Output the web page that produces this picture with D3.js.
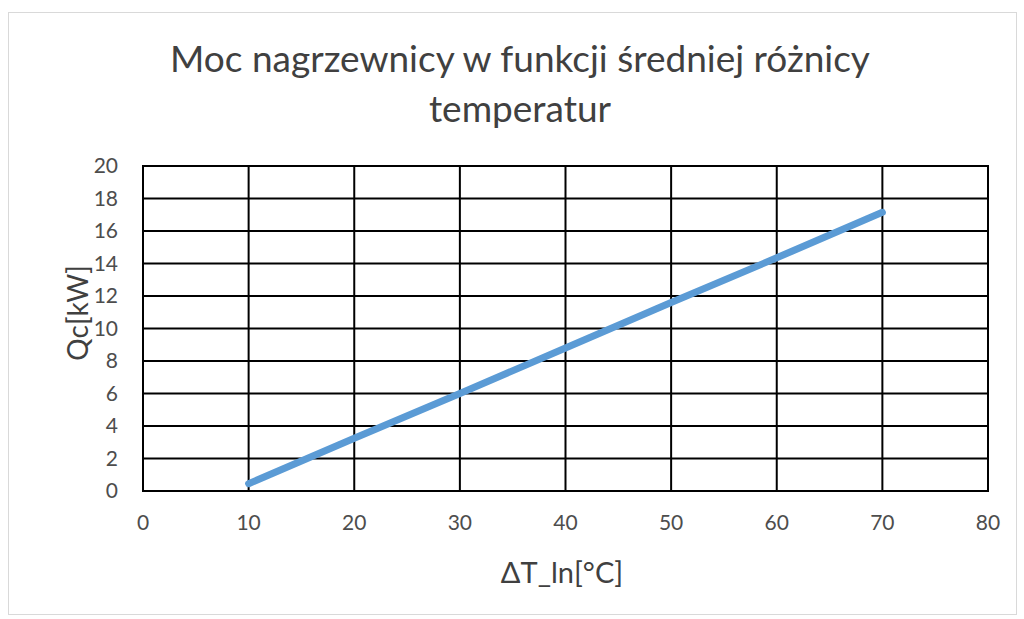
<!DOCTYPE html>
<html>
<head>
<meta charset="utf-8">
<script src="https://cdn.jsdelivr.net/npm/d3@7"></script>
<style>
  body { margin: 0; background: #fff; }
  text { font-family: Lato, "Open Sans", sans-serif; }
</style>
</head>
<body>
<svg width="1024" height="619"></svg>
<script>
const svg = d3.select("svg");
const width = +svg.attr("width");
const height = +svg.attr("height");

// Data
const dT = [10, 20, 30, 40, 50, 60, 70];
const qc = [0.45, 3.25, 6.0, 8.8, 11.6, 14.35, 17.15];
const xTicks = [0, 10, 20, 30, 40, 50, 60, 70, 80];
const yTicks = [0, 2, 4, 6, 8, 10, 12, 14, 16, 18, 20];
const titleLines = ["Moc nagrzewnicy w funkcji średniej różnicy", "temperatur"];

// Plot box
const plot = { left: 143, right: 988, top: 166, bottom: 491 };

// outer frame
svg.append("rect")
    .attr("x", 8.5).attr("y", 12.5)
    .attr("width", 1008).attr("height", 602)
    .attr("fill", "#fff")
    .attr("stroke", "#d9d9d9");

const x = d3.scaleLinear().domain([0, 80]).range([plot.left, plot.right]);
const y = d3.scaleLinear().domain([0, 20]).range([plot.bottom, plot.top]);

// Grid lines
svg.append("g")
    .selectAll("line")
    .data(xTicks)
    .join("line")
    .attr("x1", d => x(d)).attr("x2", d => x(d))
    .attr("y1", plot.top).attr("y2", plot.bottom)
    .attr("stroke", "#000").attr("stroke-width", 2);

svg.append("g")
    .selectAll("line")
    .data(yTicks)
    .join("line")
    .attr("x1", plot.left - 1).attr("x2", plot.right + 1)
    .attr("y1", d => y(d)).attr("y2", d => y(d))
    .attr("stroke", "#000").attr("stroke-width", 2);

// Tick labels
svg.append("g")
    .selectAll("text")
    .data(yTicks)
    .join("text")
    .attr("x", 118)
    .attr("y", d => y(d))
    .attr("dy", "0.35em")
    .attr("text-anchor", "end")
    .attr("fill", "#4d4d4d")
    .attr("font-size", 21)
    .text(d => d);

svg.append("g")
    .selectAll("text")
    .data(xTicks)
    .join("text")
    .attr("x", d => x(d))
    .attr("y", 523)
    .attr("dy", "0.35em")
    .attr("text-anchor", "middle")
    .attr("fill", "#4d4d4d")
    .attr("font-size", 21)
    .text(d => d);

// Series line
const line = d3.line()
    .x((d, i) => x(dT[i]))
    .y(d => y(d));

svg.append("path")
    .datum(qc)
    .attr("d", line)
    .attr("fill", "none")
    .attr("stroke", "#5b9bd5")
    .attr("stroke-width", 7)
    .attr("stroke-linecap", "round");

// Title
svg.append("g")
    .selectAll("text")
    .data(titleLines)
    .join("text")
    .attr("x", 520)
    .attr("y", (d, i) => 72 + i * 50)
    .attr("text-anchor", "middle")
    .attr("fill", "#404040")
    .attr("font-size", 37)
    .text(d => d);

// Axis titles
svg.append("text")
    .attr("x", 562)
    .attr("y", 583)
    .attr("text-anchor", "middle")
    .attr("fill", "#404040")
    .attr("font-size", 29)
    .text("ΔT_ln[°C]");

svg.append("text")
    .attr("transform", "translate(88,313) rotate(-90)")
    .attr("text-anchor", "middle")
    .attr("fill", "#404040")
    .attr("font-size", 28)
    .text("Qc[kW]");
</script>
</body>
</html>
